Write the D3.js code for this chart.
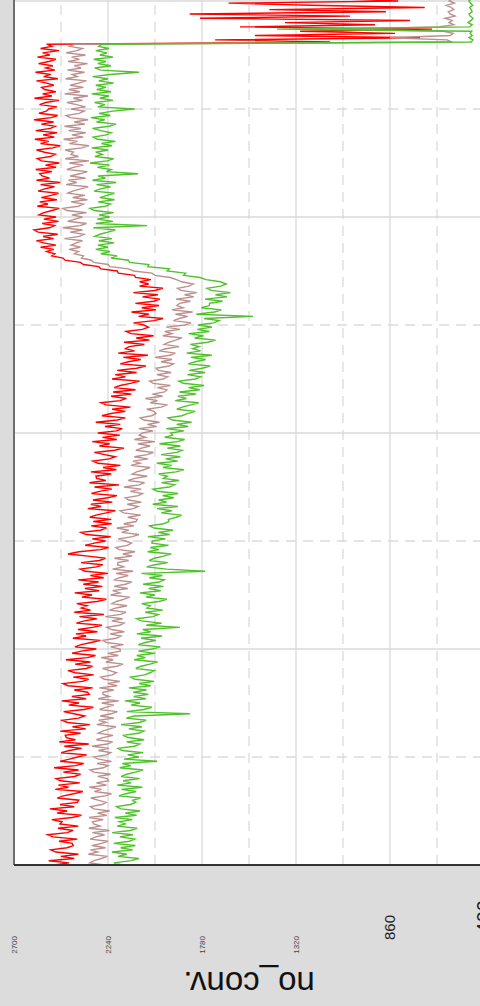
<!DOCTYPE html>
<html>
<head>
  <meta charset="UTF-8">
  <title>no_conv.</title>
  <style>
    body { margin: 0; background: #dcdcdc; }
    #chart svg { display: block; }
    .tick-label { font-family: "Liberation Sans", Arial, sans-serif; }
    .axis-title { font-family: "Liberation Sans", Arial, sans-serif; }
    .series { fill: none; stroke-width: 1.4px; }
  </style>
</head>
<body>
  <div id="chart"></div>

  <script src="https://d3js.org/d3.v7.min.js"></script>
  <script>
    // value axis ticks
    const yTicks = [2700, 2240, 1780, 1320, 860, 400];

    // three runs, one value per half step
    const redValues = [
      2505, 2430, 2530, 2405, 2470, 2385, 2495, 2520, 2440, 2410,
      2415, 2480, 2390, 2510, 2535, 2440, 2410, 2485, 2385, 2475,
      2465, 2515, 2415, 2370, 2490, 2440, 2525, 2405, 2475, 2390,
      2383, 2488, 2458, 2408, 2363, 2498, 2433, 2483, 2378, 2473,
      2494, 2404, 2374, 2459, 2384, 2504, 2399, 2359, 2474, 2429,
      2389, 2344, 2469, 2429, 2369, 2454, 2334, 2479, 2399, 2444,
      2449, 2374, 2474, 2349, 2414, 2329, 2439, 2464, 2384, 2354,
      2407, 2457, 2357, 2312, 2432, 2382, 2467, 2347, 2417, 2332,
      2340, 2405, 2315, 2435, 2460, 2365, 2335, 2410, 2310, 2400,
      2436, 2346, 2316, 2401, 2326, 2446, 2341, 2301, 2416, 2371,
      2297, 2402, 2372, 2322, 2277, 2412, 2347, 2397, 2292, 2387,
      2315, 2270, 2395, 2355, 2295, 2380, 2260, 2405, 2325, 2370,
      2343, 2393, 2293, 2248, 2368, 2318, 2403, 2283, 2353, 2268,
      2361, 2286, 2386, 2261, 2326, 2241, 2351, 2376, 2296, 2266,
      2372, 2282, 2252, 2337, 2436, 2382, 2277, 2237, 2352, 2307,
      2252, 2317, 2227, 2347, 2372, 2277, 2247, 2322, 2222, 2312,
      2224, 2329, 2299, 2249, 2204, 2339, 2274, 2324, 2219, 2314,
      2241, 2196, 2321, 2281, 2221, 2306, 2186, 2331, 2251, 2296,
      2299, 2224, 2324, 2199, 2264, 2179, 2289, 2314, 2234, 2204,
      2257, 2307, 2207, 2162, 2282, 2232, 2317, 2197, 2267, 2182,
      2290, 2200, 2170, 2255, 2180, 2300, 2195, 2155, 2270, 2225,
      2155, 2220, 2130, 2250, 2275, 2180, 2150, 2225, 2125, 2215,
      2105, 2210, 2180, 2130, 2085, 2220, 2155, 2205, 2100, 2195,
      2100, 2055, 2180, 2140, 2080, 2165, 2045, 2190, 2110, 2155,
      2137, 2062, 2162, 2037, 2102, 2017, 2127, 2152, 2072, 2042,
      2065, 2115, 2015, 1970, 2090, 2040, 2125, 2005, 2075, 1990,
      2106, 2016, 1986, 2071, 1996, 2116, 2011, 1971, 2086, 2041,
      2085, 2030, 2105, 2110, 2190, 2195, 2275, 2285, 2360, 2375,
      2450, 2460, 2515, 2500, 2540, 2505, 2570, 2495, 2555, 2590,
      2506, 2558, 2486, 2582, 2602, 2526, 2502, 2562, 2482, 2554,
      2494, 2578, 2554, 2514, 2478, 2586, 2534, 2574, 2490, 2566,
      2518, 2482, 2582, 2550, 2502, 2570, 2474, 2590, 2526, 2562,
      2574, 2514, 2594, 2494, 2546, 2478, 2566, 2586, 2522, 2498,
      2550, 2590, 2510, 2474, 2570, 2530, 2598, 2502, 2558, 2490,
      2594, 2522, 2498, 2566, 2506, 2602, 2518, 2486, 2578, 2542,
      2530, 2490, 2575, 2545, 2480, 2600, 2515, 2560, 2495, 2550,
      2565, 2505, 2540, 2590, 2485, 2555, 2520, 2595, 2500, 2545,
      2510, 2580, 2530, 2495, 2585, 2525, 2560, 2480, 2570, 2515,
      2540,
      1153, 1716, 713, 1521, 835, 1300, 654, 1594, 933, 1374,
      762, 1790, 1056, 1840, 880, 1450, 690, 1250, 1650, 820,
      1120, 1560, 700, 1380, 990
    ];

    const brownValues = [
      2256, 2329, 2308, 2273, 2242, 2336, 2291, 2326, 2252, 2319,
      2271, 2240, 2327, 2299, 2257, 2317, 2233, 2334, 2279, 2310,
      2316, 2263, 2333, 2246, 2291, 2232, 2309, 2326, 2270, 2249,
      2289, 2324, 2254, 2223, 2307, 2272, 2331, 2247, 2297, 2237,
      2244, 2290, 2227, 2310, 2328, 2262, 2240, 2293, 2223, 2286,
      2311, 2248, 2227, 2287, 2234, 2318, 2244, 2217, 2297, 2265,
      2215, 2288, 2267, 2232, 2201, 2295, 2250, 2285, 2211, 2278,
      2225, 2194, 2281, 2253, 2211, 2271, 2187, 2288, 2233, 2264,
      2265, 2212, 2282, 2195, 2240, 2181, 2258, 2275, 2219, 2198,
      2232, 2267, 2197, 2166, 2250, 2215, 2274, 2190, 2240, 2180,
      2181, 2227, 2164, 2247, 2265, 2199, 2177, 2230, 2160, 2223,
      2246, 2183, 2162, 2222, 2169, 2253, 2179, 2152, 2232, 2200,
      2147, 2220, 2199, 2164, 2133, 2227, 2182, 2217, 2143, 2210,
      2155, 2124, 2211, 2183, 2141, 2201, 2117, 2218, 2163, 2194,
      2192, 2139, 2209, 2122, 2167, 2108, 2185, 2202, 2146, 2125,
      2155, 2190, 2120, 2089, 2173, 2138, 2197, 2113, 2163, 2103,
      2097, 2143, 2080, 2163, 2181, 2115, 2093, 2146, 2076, 2139,
      2155, 2092, 2071, 2131, 2078, 2162, 2088, 2061, 2141, 2109,
      2048, 2121, 2100, 2065, 2034, 2128, 2083, 2118, 2044, 2111,
      2048, 2017, 2104, 2076, 2034, 2094, 2010, 2111, 2056, 2087,
      2072, 2019, 2089, 2002, 2047, 1988, 2065, 2082, 2026, 2005,
      2015, 2050, 1980, 1949, 2033, 1998, 2057, 1973, 2023, 1963,
      1952, 1998, 1935, 2018, 2036, 1970, 1948, 2001, 1931, 1994,
      2004, 1941, 1920, 1980, 1927, 2011, 1937, 1910, 1990, 1958,
      1892, 1965, 1944, 1909, 1878, 1972, 1927, 1962, 1888, 1955,
      1864, 1833, 1920, 1892, 1850, 1910, 1826, 1927, 1872, 1903,
      1890, 1837, 1907, 1820, 1865, 1806, 1883, 1900, 1844, 1823,
      1880, 1905, 1935, 2010, 2025, 2115, 2140, 2230, 2240, 2310,
      2320, 2370, 2360, 2405, 2385, 2430, 2375, 2420, 2395, 2365,
      2453, 2381, 2357, 2425, 2365, 2461, 2377, 2345, 2437, 2401,
      2365, 2417, 2345, 2441, 2461, 2385, 2361, 2421, 2341, 2413,
      2353, 2437, 2413, 2373, 2337, 2445, 2393, 2433, 2349, 2425,
      2377, 2341, 2441, 2409, 2361, 2429, 2333, 2449, 2385, 2421,
      2409, 2449, 2369, 2333, 2429, 2389, 2457, 2361, 2417, 2349,
      2433, 2373, 2453, 2353, 2405, 2337, 2425, 2445, 2381, 2357,
      2420, 2350, 2395, 2440, 2365, 2410, 2338, 2452, 2378, 2430,
      2360, 2425, 2385, 2345, 2448, 2390, 2415, 2355, 2438, 2372,
      2405, 2340, 2435, 2380, 2418, 2350, 2445, 2392, 2365, 2428,
      2400,
      556, 581, 860, 566, 551, 598, 1153, 620, 548, 571,
      556, 591, 542, 566, 575, 548, 560, 585, 545, 570,
      555, 590, 560, 548, 572
    ];

    const greenValues = [
      2170, 2212, 2127, 2089, 2191, 2148, 2221, 2119, 2178, 2106,
      2212, 2135, 2109, 2182, 2118, 2220, 2131, 2097, 2195, 2156,
      2185, 2121, 2207, 2100, 2156, 2083, 2177, 2198, 2130, 2104,
      2119, 2080, 2187, 2153, 2102, 2174, 2072, 2195, 2127, 2166,
      2085, 2175, 2149, 2106, 2068, 2183, 2128, 2170, 2000, 2162,
      2089, 2144, 2068, 2170, 2191, 2110, 2085, 2149, 2063, 2140,
      2168, 2091, 2065, 2138, 2074, 2176, 2087, 2053, 2151, 2112,
      1839, 2148, 2063, 2025, 2127, 2084, 2157, 2055, 2114, 2042,
      2116, 2052, 2138, 2031, 2087, 2014, 2108, 2129, 2061, 2035,
      2014, 2104, 2078, 2035, 1997, 2112, 2057, 2099, 2010, 2091,
      2023, 1984, 2091, 2057, 2006, 2078, 1976, 2099, 2031, 2070,
      1888, 2053, 1977, 2079, 2100, 2019, 1994, 2058, 1972, 2049,
      2033, 2075, 1990, 1952, 2054, 2011, 2084, 1982, 2041, 1969,
      2068, 1991, 1965, 2038, 1974, 2076, 1765, 1953, 2051, 2012,
      1948, 2038, 2012, 1969, 1931, 2046, 1991, 2033, 1944, 2025,
      2023, 1959, 2045, 1938, 1994, 1921, 2015, 2036, 1968, 1942,
      1945, 1906, 1880, 1979, 1928, 2000, 1898, 2021, 1953, 1992,
      1918, 1973, 1897, 1999, 2020, 1939, 1914, 1978, 1892, 1969,
      1950, 1992, 1907, 1869, 1971, 1928, 2001, 1899, 1958, 1886,
      1980, 1903, 1877, 1950, 1886, 1988, 1899, 1865, 1963, 1924,
      1933, 1869, 1955, 1848, 1904, 1831, 1925, 1946, 1878, 1852,
      1813, 1903, 1877, 1834, 1796, 1911, 1856, 1898, 1809, 1890,
      1791, 1846, 1770, 1872, 1893, 1812, 1787, 1851, 1765, 1842,
      1779, 1740, 1847, 1813, 1762, 1834, 1732, 1855, 1787, 1826,
      1795, 1837, 1752, 1714, 1816, 1773, 1846, 1744, 1803, 1731,
      1800, 1723, 1697, 1770, 1530, 1808, 1719, 1685, 1783, 1744,
      1743, 1679, 1765, 1658, 1714, 1641, 1735, 1756, 1688, 1662,
      1690, 1760, 1790, 1870, 1860, 1950, 1940, 2045, 2040, 2135,
      2140, 2225, 2195, 2275, 2230, 2300, 2240, 2290, 2210, 2285,
      2220, 2304, 2280, 2240, 2204, 2312, 2049, 2300, 2216, 2292,
      2232, 2284, 2212, 2308, 2328, 2252, 2228, 2288, 2208, 2280,
      2244, 2208, 2308, 2276, 2228, 2296, 2200, 2316, 2252, 2288,
      2093, 2248, 2224, 2292, 2232, 2328, 2244, 2212, 2304, 2268,
      2300, 2240, 2320, 2220, 2272, 2204, 2292, 2312, 2248, 2224,
      2276, 2316, 2236, 2200, 2296, 2256, 2324, 2228, 2284, 2216,
      2110, 2290, 2255, 2305, 2215, 2280, 2235, 2320, 2225, 2295,
      2250, 2300, 2212, 2285, 2240, 2315, 2230, 2088, 2275, 2305,
      2225, 2290, 2250, 2310, 2215, 2280, 2245, 2300, 2235, 2285,
      2270,
      463, 454, 473, 458, 468, 460, 1413, 470, 458, 478,
      463, 454, 468, 473, 458, 463, 470, 455, 466, 474,
      460, 468, 456, 471, 462
    ];

    const width = 480, height = 1006;
    const plotW = 900;   // step axis (runs up the page)
    const plotH = 470;   // value axis (runs across the page)

    const svg = d3.select("#chart")
      .append("svg")
      .attr("width", width)
      .attr("height", height);

    svg.append("rect")
      .attr("width", width)
      .attr("height", height)
      .attr("fill", "#dcdcdc");

    // the whole chart is turned a quarter turn
    const g = svg.append("g")
      .attr("transform", "translate(14,865) rotate(-90)");

    const x = d3.scaleLinear().domain([0, 400]).range([0, 864]);
    const y = d3.scaleLinear().domain([400, 2700]).range([plotH, 0]);

    g.append("rect")
      .attr("width", plotW)
      .attr("height", plotH)
      .attr("fill", "#fff");

    // grid
    const xMajor = d3.range(100, 401, 100);
    const xMinor = d3.range(50, 401, 100);
    const yMajor = yTicks.slice(1, -1);
    const yMinor = d3.pairs(yTicks).map(([a, b]) => (a + b) / 2);

    g.selectAll(".xgrid")
      .data(xMajor.concat(xMinor))
      .enter()
      .append("line")
      .attr("x1", d => x(d))
      .attr("x2", d => x(d))
      .attr("y1", 0)
      .attr("y2", plotH)
      .attr("stroke", "#dadada")
      .attr("stroke-width", 1.3)
      .attr("stroke-dasharray", d => xMajor.includes(d) ? null : "10,7");

    g.selectAll(".ygrid")
      .data(yMajor.concat(yMinor))
      .enter()
      .append("line")
      .attr("x1", 0)
      .attr("x2", plotW)
      .attr("y1", d => y(d))
      .attr("y2", d => y(d))
      .attr("stroke", "#dadada")
      .attr("stroke-width", 1.3)
      .attr("stroke-dasharray", d => yMajor.includes(d) ? null : "10,7");

    // series
    const line = d3.line()
      .x((d, i) => x(i))
      .y(d => y(d));

    const series = [
      { values: redValues, color: "#ff0000" },
      { values: brownValues, color: "#bc8f8f" },
      { values: greenValues, color: "#50c02c" }
    ];

    g.selectAll(".series")
      .data(series)
      .enter()
      .append("path")
      .attr("class", "series")
      .attr("stroke", d => d.color)
      .attr("d", d => line(d.values));

    // frame
    g.append("line")
      .attr("x1", 0).attr("x2", plotW)
      .attr("y1", 0).attr("y2", 0)
      .attr("stroke", "#6e6e6e")
      .attr("stroke-width", 2);

    g.append("line")
      .attr("x1", 0).attr("x2", 0)
      .attr("y1", 0).attr("y2", plotH)
      .attr("stroke", "#333")
      .attr("stroke-width", 2);

    // value labels, growing toward the bottom of the axis
    const labelSize = i => i < 4 ? 8 : (i === 4 ? 15 : 20);

    g.selectAll(".tick-label")
      .data(yTicks)
      .enter()
      .append("text")
      .attr("class", "tick-label")
      .attr("x", (d, i) => -(95 - 3 * labelSize(i)))
      .attr("y", d => y(d))
      .attr("dy", "0.35em")
      .attr("text-anchor", "end")
      .attr("font-size", (d, i) => labelSize(i))
      .attr("fill", (d, i) => i < 4 ? "#444" : "#222")
      .text(d => d);

    g.append("text")
      .attr("class", "axis-title")
      .attr("transform", `translate(-107,${plotH / 2}) rotate(-90)`)
      .attr("text-anchor", "middle")
      .attr("font-size", 33)
      .attr("fill", "#111")
      .text("no_conv.");
  </script>
</body>
</html>
